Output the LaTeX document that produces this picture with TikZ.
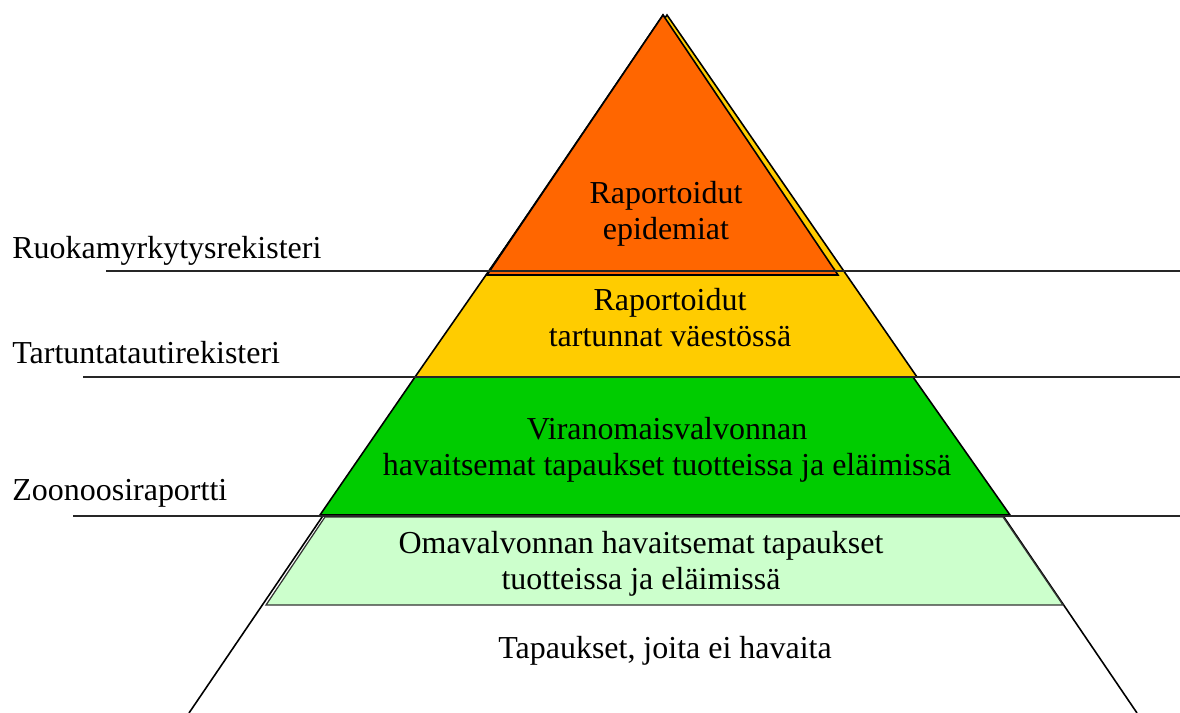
\documentclass[tikz,border=0pt]{standalone}
\usepackage{fontspec}
\setmainfont{Liberation Serif}
\definecolor{orangeL}{HTML}{FF6600}
\definecolor{yellowL}{HTML}{FFCC00}
\definecolor{greenL}{HTML}{00CC00}
\definecolor{lightgreenL}{HTML}{CCFFCC}
\begin{document}
\begin{tikzpicture}[x=0.02cm,y=-0.02cm,
  edge/.style={draw=black, line width=0.9pt, line join=miter},
  layer/.style={draw=black, line width=0.9pt, line join=miter},
  rule/.style={draw=black!85, line width=0.8pt},
  lbl/.style={font=\fontsize{18.2}{20.5}\selectfont, inner sep=0pt, align=center},
]
\useasboundingbox (0,0) rectangle (1180,713);
% big triangle sides
\coordinate (apex) at (663,15);
\coordinate (bl) at (189,713);
\coordinate (br) at (1137,713);
\draw[edge] (bl) -- (apex) -- (br);
% light green layer
\filldraw[layer, fill=lightgreenL, draw=black!80, line width=0.7pt]
  (325,517) -- (1003,517) -- (1063,605) -- (266,605) -- cycle;
% green layer
\filldraw[layer, fill=greenL] (415,377) -- (913,377) -- (1010,515) -- (320,515) -- cycle;
% yellow layer
\filldraw[layer, fill=yellowL] (667,15) -- (917,377) -- (415,377) -- cycle;
% orange layer
\filldraw[layer, fill=orangeL] (663,15) -- (838,275) -- (487,275) -- cycle;
% rules
\coordinate (r1a) at (106,271); \coordinate (r1b) at (1180,271);
\coordinate (r2a) at (83,377);  \coordinate (r2b) at (1180,377);
\coordinate (r3a) at (73,516);  \coordinate (r3b) at (1180,516);
\draw[rule] (r1a) -- (r1b);
\draw[rule] (r2a) -- (r2b);
\draw[rule] (r3a) -- (r3b);
% texts
\node[lbl] (t1) at (666,214) {Raportoidut\\epidemiat};
\node[lbl] (t2) at (670,318) {Raportoidut\\tartunnat väestössä};
\node[lbl] (t3) at (667,450) {Viranomaisvalvonnan\\havaitsemat tapaukset tuotteissa ja eläimissä};
\node[lbl] (t4) at (641,564) {Omavalvonnan havaitsemat tapaukset\\tuotteissa ja eläimissä};
\node[lbl, anchor=base] (t5) at (665,658) {Tapaukset, joita ei havaita};
\node[lbl, anchor=base west] (l1) at (12,258) {Ruokamyrkytysrekisteri};
\node[lbl, anchor=base west] (l2) at (12,363) {Tartuntatautirekisteri};
\node[lbl, anchor=base west] (l3) at (12,500) {Zoonoosiraportti};
\end{tikzpicture}
\end{document}
